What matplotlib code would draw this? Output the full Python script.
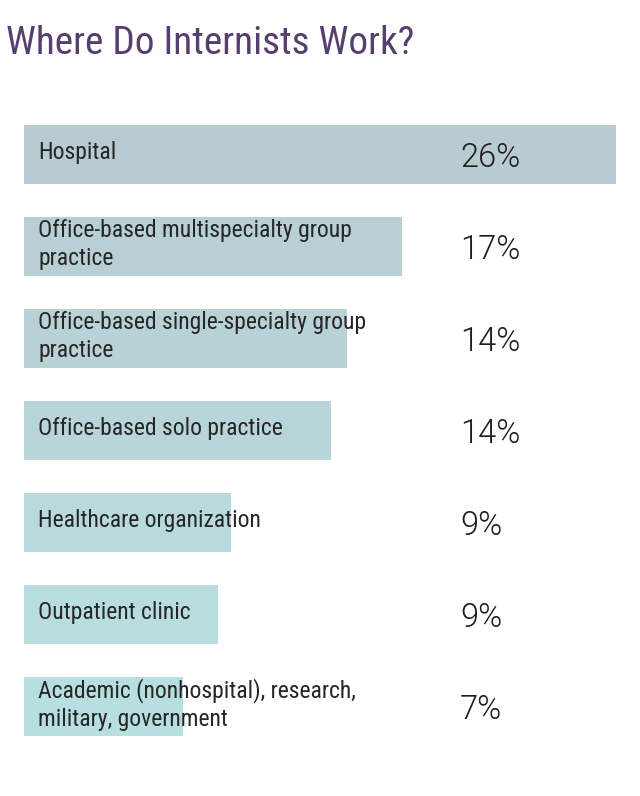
import matplotlib
matplotlib.use("Agg")
import matplotlib.pyplot as plt

# Data
categories = [
    "Hospital",
    "Office-based multispecialty group\npractice",
    "Office-based single-specialty group\npractice",
    "Office-based solo practice",
    "Healthcare organization",
    "Outpatient clinic",
    "Academic (nonhospital), research,\nmilitary, government",
]
bar_values = [26.0, 16.6, 14.2, 13.5, 9.1, 8.5, 7.0]
pct_labels = ["26%", "17%", "14%", "14%", "9%", "9%", "7%"]
bar_colors = ["#b8cbd0", "#b8cfd4", "#b8d2d6", "#b8d6d9", "#b8dadd", "#b8dddf", "#b8dfe0"]

W, H = 640, 796
fig = plt.figure(figsize=(W / 100, H / 100), dpi=100)
fig.patch.set_facecolor("white")

# axes: x 24..616 px, y from 108.5..752.5 px
left_px, right_px = 24, 616
top_px, bot_px = 108.5, 752.5
ax = fig.add_axes([left_px / W, 1 - bot_px / H, (right_px - left_px) / W, (bot_px - top_px) / H])
ax.set_xlim(0, 26)
ax.set_ylim(len(categories) - 0.5, -0.5)
ax.axis("off")

ypos = list(range(len(categories)))
ax.barh(ypos, bar_values, height=59 / 92, color=bar_colors, left=0)

px_per_unit = (right_px - left_px) / 26.0
label_x = (38 - left_px) / px_per_unit
pct_x = (460 - left_px) / px_per_unit

for i, (cat, pct) in enumerate(zip(categories, pct_labels)):
    ax.text(label_x, i - 0.02, cat, ha="left", va="center", fontsize=17,
            family="Roboto Condensed", color="#262626", linespacing=1.3)
    ax.text(pct_x, i + 0.04, pct, ha="left", va="center", fontsize=23.5,
            family="Roboto", weight=300, color="#1e1e1e")

fig.text(6 / W, 1 - 44 / H, "Where Do Internists Work?", ha="left", va="center",
         fontsize=28.3, family="Roboto Condensed", color="#563f6e")

fig.savefig("out.png", dpi=100, facecolor="white")
